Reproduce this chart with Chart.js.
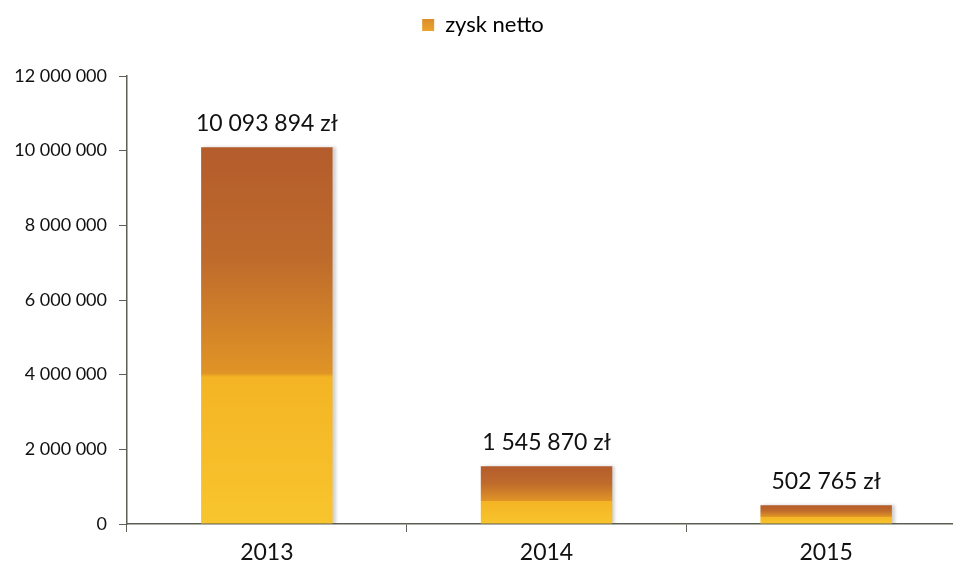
<!DOCTYPE html>
<html>
<head>
<meta charset="utf-8">
<script src="https://cdn.jsdelivr.net/npm/chart.js@4/dist/chart.umd.min.js"></script>
<style>
	html, body { margin: 0; padding: 0; background: #fff; overflow: hidden; }
	#wrap { width: 975px; height: 568px; }
</style>
</head>
<body>
<div id="wrap"><canvas id="chart"></canvas></div>
<script>
// dane
const years = ["2013", "2014", "2015"];
const netProfit = [10093894, 1545870, 502765];
const seriesLabel = "zysk netto";
const yTicks = [0, 2000000, 4000000, 6000000, 8000000, 10000000, 12000000];

const FONT = "Lato, 'Open Sans', sans-serif";

// format liczb ze spacją jako separatorem tysięcy
function fmt(v) {
	return String(v).replace(/\B(?=(\d{3})+(?!\d))/g, " ");
}

// pionowy gradient od brązu (góra) do żółtego (dół), osobno dla każdego słupka
function barGradient(ctx) {
	const chart = ctx.chart;
	const y = chart.scales.y;
	if (!chart.chartArea || !y || ctx.dataIndex === undefined) return "#e39a35";
	const top = y.getPixelForValue(ctx.raw);
	const base = y.getPixelForValue(0);
	if (!isFinite(top) || !isFinite(base) || top === base) return "#e39a35";
	const g = chart.ctx.createLinearGradient(0, top, 0, base);
	g.addColorStop(0, "#b45c2c");
	g.addColorStop(0.3, "#bf6b2c");
	g.addColorStop(0.6, "#e09426");
	g.addColorStop(0.61, "#f4b424");
	g.addColorStop(1, "#f8c52e");
	return g;
}

// gradient do kwadracika w legendzie
function legendGradient(chart) {
	const g = chart.ctx.createLinearGradient(0, 0, 0, 40);
	g.addColorStop(0, "#c46a2c");
	g.addColorStop(1, "#f6b42a");
	return g;
}

// etykiety wartości nad słupkami
const valueLabels = {
	id: "valueLabels",
	afterDatasetsDraw(chart) {
		const { ctx } = chart;
		const meta = chart.getDatasetMeta(0);
		ctx.save();
		ctx.font = "23px " + FONT;
		ctx.fillStyle = "#111";
		ctx.textAlign = "center";
		ctx.textBaseline = "middle";
		meta.data.forEach((bar, i) => {
			ctx.fillText(fmt(netProfit[i]) + " zł", bar.x, bar.y - 24);
		});
		ctx.restore();
	},
};

// lekki cień po prawej stronie słupków
const barShadow = {
	id: "barShadow",
	beforeDatasetDraw(chart) {
		chart.ctx.save();
		chart.ctx.shadowColor = "rgba(0,0,0,0.18)";
		chart.ctx.shadowOffsetX = 3;
		chart.ctx.shadowOffsetY = 0;
		chart.ctx.shadowBlur = 3;
	},
	afterDatasetDraw(chart) {
		chart.ctx.restore();
	},
};

// więcej miejsca pod legendą
const legendGap = {
	id: "legendGap",
	afterInit(chart) {
		const fit = chart.legend.fit;
		chart.legend.fit = function () {
			fit.call(this);
			this.height += 30;
		};
	},
};

const ctx = document.getElementById("chart").getContext("2d");
new Chart(ctx, {
	type: "bar",
	data: {
		labels: years,
		datasets: [
			{
				label: seriesLabel,
				data: netProfit,
				backgroundColor: barGradient,
				categoryPercentage: 0.94,
				barPercentage: 0.5,
			},
		],
	},
	plugins: [barShadow, valueLabels, legendGap],
	options: {
		responsive: true,
		maintainAspectRatio: false,
		animation: false,
		layout: { padding: { left: 0, right: 9, top: 4, bottom: 0 } },
		scales: {
			x: {
				offset: true,
				border: { display: true, color: "#5f5f55", width: 1.5 },
				grid: {
					display: true,
					offset: true,
					drawOnChartArea: false,
					drawTicks: true,
					tickLength: 8,
					color: "#5f5f55",
				},
				ticks: {
					font: { family: FONT, size: 23 },
					color: "#111",
					padding: 7,
				},
				afterFit: (s) => { s.height = 44; },
			},
			y: {
				min: 0,
				max: 12000000,
				border: { display: true, color: "#5f5f55", width: 1.5 },
				grid: {
					display: true,
					drawOnChartArea: false,
					drawTicks: true,
					tickLength: 8,
					color: "#5f5f55",
				},
				afterBuildTicks: (s) => {
					s.ticks = yTicks.map((v) => ({ value: v }));
				},
				ticks: {
					font: { family: FONT, size: 18 },
					color: "#111",
					padding: 12,
					callback: (v) => fmt(v),
				},
				afterFit: (s) => { s.width = 127; },
			},
		},
		plugins: {
			legend: {
				display: true,
				position: "top",
				labels: {
					font: { family: FONT, size: 22 },
					color: "#111",
					boxWidth: 12,
					boxHeight: 12,
					padding: 10,
					generateLabels: (chart) => [
						{
							text: seriesLabel,
							fillStyle: legendGradient(chart),
							strokeStyle: "#e8962e",
							lineWidth: 0,
							datasetIndex: 0,
						},
					],
				},
			},
			tooltip: { enabled: false },
		},
	},
});
</script>
</body>
</html>
